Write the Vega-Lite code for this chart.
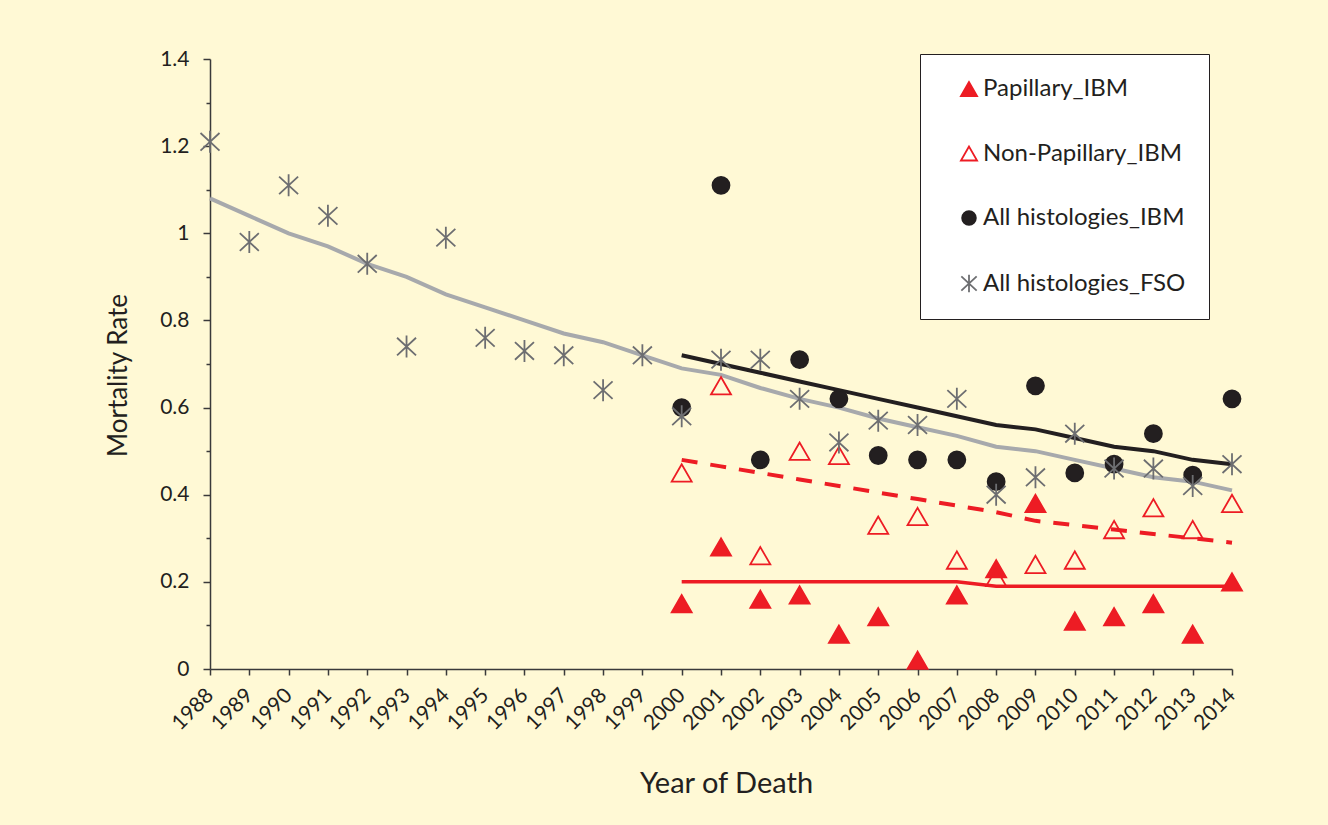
{
  "$schema": "https://vega.github.io/schema/vega-lite/v6.json",
  "width": 1022,
  "height": 610,
  "autosize": "none",
  "padding": {"left": 210, "top": 59, "right": 96, "bottom": 156},
  "background": "#FFF9D5",
  "datasets": {
    "trends": [
      {"trend": "FSO", "year": 1988, "rate": 1.08},
      {"trend": "FSO", "year": 1989, "rate": 1.04},
      {"trend": "FSO", "year": 1990, "rate": 1.00},
      {"trend": "FSO", "year": 1991, "rate": 0.97},
      {"trend": "FSO", "year": 1992, "rate": 0.93},
      {"trend": "FSO", "year": 1993, "rate": 0.90},
      {"trend": "FSO", "year": 1994, "rate": 0.86},
      {"trend": "FSO", "year": 1995, "rate": 0.83},
      {"trend": "FSO", "year": 1996, "rate": 0.80},
      {"trend": "FSO", "year": 1997, "rate": 0.77},
      {"trend": "FSO", "year": 1998, "rate": 0.75},
      {"trend": "FSO", "year": 1999, "rate": 0.72},
      {"trend": "FSO", "year": 2000, "rate": 0.69},
      {"trend": "FSO", "year": 2001, "rate": 0.675},
      {"trend": "FSO", "year": 2002, "rate": 0.645},
      {"trend": "FSO", "year": 2003, "rate": 0.62},
      {"trend": "FSO", "year": 2004, "rate": 0.60},
      {"trend": "FSO", "year": 2005, "rate": 0.575},
      {"trend": "FSO", "year": 2006, "rate": 0.555},
      {"trend": "FSO", "year": 2007, "rate": 0.535},
      {"trend": "FSO", "year": 2008, "rate": 0.51},
      {"trend": "FSO", "year": 2009, "rate": 0.50},
      {"trend": "FSO", "year": 2010, "rate": 0.48},
      {"trend": "FSO", "year": 2011, "rate": 0.46},
      {"trend": "FSO", "year": 2012, "rate": 0.44},
      {"trend": "FSO", "year": 2013, "rate": 0.43},
      {"trend": "FSO", "year": 2014, "rate": 0.41},
      {"trend": "IBM", "year": 2000, "rate": 0.72},
      {"trend": "IBM", "year": 2001, "rate": 0.70},
      {"trend": "IBM", "year": 2002, "rate": 0.68},
      {"trend": "IBM", "year": 2003, "rate": 0.66},
      {"trend": "IBM", "year": 2004, "rate": 0.64},
      {"trend": "IBM", "year": 2005, "rate": 0.62},
      {"trend": "IBM", "year": 2006, "rate": 0.60},
      {"trend": "IBM", "year": 2007, "rate": 0.58},
      {"trend": "IBM", "year": 2008, "rate": 0.56},
      {"trend": "IBM", "year": 2009, "rate": 0.55},
      {"trend": "IBM", "year": 2010, "rate": 0.53},
      {"trend": "IBM", "year": 2011, "rate": 0.51},
      {"trend": "IBM", "year": 2012, "rate": 0.50},
      {"trend": "IBM", "year": 2013, "rate": 0.48},
      {"trend": "IBM", "year": 2014, "rate": 0.47},
      {"trend": "NonPap", "year": 2000, "rate": 0.48},
      {"trend": "NonPap", "year": 2001, "rate": 0.465},
      {"trend": "NonPap", "year": 2002, "rate": 0.45},
      {"trend": "NonPap", "year": 2003, "rate": 0.435},
      {"trend": "NonPap", "year": 2004, "rate": 0.42},
      {"trend": "NonPap", "year": 2005, "rate": 0.405},
      {"trend": "NonPap", "year": 2006, "rate": 0.39},
      {"trend": "NonPap", "year": 2007, "rate": 0.375},
      {"trend": "NonPap", "year": 2008, "rate": 0.36},
      {"trend": "NonPap", "year": 2009, "rate": 0.34},
      {"trend": "NonPap", "year": 2010, "rate": 0.33},
      {"trend": "NonPap", "year": 2011, "rate": 0.32},
      {"trend": "NonPap", "year": 2012, "rate": 0.31},
      {"trend": "NonPap", "year": 2013, "rate": 0.30},
      {"trend": "NonPap", "year": 2014, "rate": 0.29},
      {"trend": "Pap", "year": 2000, "rate": 0.20},
      {"trend": "Pap", "year": 2001, "rate": 0.20},
      {"trend": "Pap", "year": 2002, "rate": 0.20},
      {"trend": "Pap", "year": 2003, "rate": 0.20},
      {"trend": "Pap", "year": 2004, "rate": 0.20},
      {"trend": "Pap", "year": 2005, "rate": 0.20},
      {"trend": "Pap", "year": 2006, "rate": 0.20},
      {"trend": "Pap", "year": 2007, "rate": 0.20},
      {"trend": "Pap", "year": 2008, "rate": 0.19},
      {"trend": "Pap", "year": 2009, "rate": 0.19},
      {"trend": "Pap", "year": 2010, "rate": 0.19},
      {"trend": "Pap", "year": 2011, "rate": 0.19},
      {"trend": "Pap", "year": 2012, "rate": 0.19},
      {"trend": "Pap", "year": 2013, "rate": 0.19},
      {"trend": "Pap", "year": 2014, "rate": 0.19}
    ],
    "points": [
      {"series": "Papillary_IBM", "year": 2000, "rate": 0.15},
      {"series": "Papillary_IBM", "year": 2001, "rate": 0.28},
      {"series": "Papillary_IBM", "year": 2002, "rate": 0.16},
      {"series": "Papillary_IBM", "year": 2003, "rate": 0.17},
      {"series": "Papillary_IBM", "year": 2004, "rate": 0.08},
      {"series": "Papillary_IBM", "year": 2005, "rate": 0.12},
      {"series": "Papillary_IBM", "year": 2006, "rate": 0.02},
      {"series": "Papillary_IBM", "year": 2007, "rate": 0.17},
      {"series": "Papillary_IBM", "year": 2008, "rate": 0.23},
      {"series": "Papillary_IBM", "year": 2009, "rate": 0.38},
      {"series": "Papillary_IBM", "year": 2010, "rate": 0.11},
      {"series": "Papillary_IBM", "year": 2011, "rate": 0.12},
      {"series": "Papillary_IBM", "year": 2012, "rate": 0.15},
      {"series": "Papillary_IBM", "year": 2013, "rate": 0.08},
      {"series": "Papillary_IBM", "year": 2014, "rate": 0.20},
      {"series": "Non-Papillary_IBM", "year": 2000, "rate": 0.45},
      {"series": "Non-Papillary_IBM", "year": 2001, "rate": 0.65},
      {"series": "Non-Papillary_IBM", "year": 2002, "rate": 0.26},
      {"series": "Non-Papillary_IBM", "year": 2003, "rate": 0.50},
      {"series": "Non-Papillary_IBM", "year": 2004, "rate": 0.49},
      {"series": "Non-Papillary_IBM", "year": 2005, "rate": 0.33},
      {"series": "Non-Papillary_IBM", "year": 2006, "rate": 0.35},
      {"series": "Non-Papillary_IBM", "year": 2007, "rate": 0.25},
      {"series": "Non-Papillary_IBM", "year": 2008, "rate": 0.21},
      {"series": "Non-Papillary_IBM", "year": 2009, "rate": 0.24},
      {"series": "Non-Papillary_IBM", "year": 2010, "rate": 0.25},
      {"series": "Non-Papillary_IBM", "year": 2011, "rate": 0.32},
      {"series": "Non-Papillary_IBM", "year": 2012, "rate": 0.37},
      {"series": "Non-Papillary_IBM", "year": 2013, "rate": 0.32},
      {"series": "Non-Papillary_IBM", "year": 2014, "rate": 0.38},
      {"series": "All histologies_IBM", "year": 2000, "rate": 0.60},
      {"series": "All histologies_IBM", "year": 2001, "rate": 1.11},
      {"series": "All histologies_IBM", "year": 2002, "rate": 0.48},
      {"series": "All histologies_IBM", "year": 2003, "rate": 0.71},
      {"series": "All histologies_IBM", "year": 2004, "rate": 0.62},
      {"series": "All histologies_IBM", "year": 2005, "rate": 0.49},
      {"series": "All histologies_IBM", "year": 2006, "rate": 0.48},
      {"series": "All histologies_IBM", "year": 2007, "rate": 0.48},
      {"series": "All histologies_IBM", "year": 2008, "rate": 0.43},
      {"series": "All histologies_IBM", "year": 2009, "rate": 0.65},
      {"series": "All histologies_IBM", "year": 2010, "rate": 0.45},
      {"series": "All histologies_IBM", "year": 2011, "rate": 0.47},
      {"series": "All histologies_IBM", "year": 2012, "rate": 0.54},
      {"series": "All histologies_IBM", "year": 2013, "rate": 0.445},
      {"series": "All histologies_IBM", "year": 2014, "rate": 0.62},
      {"series": "All histologies_FSO", "year": 1988, "rate": 1.21},
      {"series": "All histologies_FSO", "year": 1989, "rate": 0.98},
      {"series": "All histologies_FSO", "year": 1990, "rate": 1.11},
      {"series": "All histologies_FSO", "year": 1991, "rate": 1.04},
      {"series": "All histologies_FSO", "year": 1992, "rate": 0.93},
      {"series": "All histologies_FSO", "year": 1993, "rate": 0.74},
      {"series": "All histologies_FSO", "year": 1994, "rate": 0.99},
      {"series": "All histologies_FSO", "year": 1995, "rate": 0.76},
      {"series": "All histologies_FSO", "year": 1996, "rate": 0.73},
      {"series": "All histologies_FSO", "year": 1997, "rate": 0.72},
      {"series": "All histologies_FSO", "year": 1998, "rate": 0.64},
      {"series": "All histologies_FSO", "year": 1999, "rate": 0.72},
      {"series": "All histologies_FSO", "year": 2000, "rate": 0.58},
      {"series": "All histologies_FSO", "year": 2001, "rate": 0.71},
      {"series": "All histologies_FSO", "year": 2002, "rate": 0.71},
      {"series": "All histologies_FSO", "year": 2003, "rate": 0.62},
      {"series": "All histologies_FSO", "year": 2004, "rate": 0.52},
      {"series": "All histologies_FSO", "year": 2005, "rate": 0.57},
      {"series": "All histologies_FSO", "year": 2006, "rate": 0.56},
      {"series": "All histologies_FSO", "year": 2007, "rate": 0.62},
      {"series": "All histologies_FSO", "year": 2008, "rate": 0.40},
      {"series": "All histologies_FSO", "year": 2009, "rate": 0.44},
      {"series": "All histologies_FSO", "year": 2010, "rate": 0.54},
      {"series": "All histologies_FSO", "year": 2011, "rate": 0.46},
      {"series": "All histologies_FSO", "year": 2012, "rate": 0.46},
      {"series": "All histologies_FSO", "year": 2013, "rate": 0.42},
      {"series": "All histologies_FSO", "year": 2014, "rate": 0.47}
    ]
  },
  "encoding": {
    "x": {
      "field": "year",
      "type": "quantitative",
      "scale": {"domain": [1988, 2014], "nice": false, "zero": false},
      "axis": {
        "title": "Year of Death",
        "values": [1988,1989,1990,1991,1992,1993,1994,1995,1996,1997,1998,1999,2000,2001,2002,2003,2004,2005,2006,2007,2008,2009,2010,2011,2012,2013,2014],
        "format": "d",
        "labelAngle": -45,
        "labelAlign": "right",
        "labelBaseline": "middle",
        "labelFontSize": 21,
        "tickSize": 6,
        "labelPadding": 17,
        "labelOverlap": false,
        "labelFlush": false,
        "titleFontSize": 29,
        "titleX": 516,
        "titleY": 123,
        "titleAlign": "center",
        "titleBaseline": "alphabetic"
      }
    },
    "y": {
      "field": "rate",
      "type": "quantitative",
      "scale": {"domain": [0, 1.4], "nice": false}
    }
  },
  "layer": [
    {
      "data": {"name": "trends"},
      "transform": [{"filter": "datum.trend == 'FSO'"}],
      "mark": {"type": "line", "color": "#A7A9AC", "strokeWidth": 4},
      "encoding": {
        "y": {
          "field": "rate",
          "type": "quantitative",
          "axis": {
            "title": "Mortality Rate",
            "orient": "left",
            "values": [0, 0.2, 0.4, 0.6, 0.8, 1, 1.2, 1.4],
            "format": "~g",
            "labelFontSize": 21,
            "tickSize": 7,
            "labelPadding": 14,
            "titleFontSize": 26,
            "titleAngle": -90,
            "titleX": -84,
            "titleY": 316,
            "titleAlign": "center",
            "titleBaseline": "alphabetic"
          }
        }
      }
    },
    {
      "data": {"name": "trends"},
      "transform": [{"filter": "datum.trend == 'IBM'"}],
      "mark": {"type": "line", "color": "#231F20", "strokeWidth": 4},
      "encoding": {
        "y": {
          "field": "rate",
          "type": "quantitative",
          "axis": {
            "title": null,
            "orient": "left",
            "values": [0.1, 0.3, 0.5, 0.7, 0.9, 1.1, 1.3],
            "labels": false,
            "domain": false,
            "tickSize": 4
          }
        }
      }
    },
    {
      "data": {"name": "trends"},
      "transform": [{"filter": "datum.trend == 'NonPap'"}],
      "mark": {"type": "line", "color": "#ED1C24", "strokeWidth": 4, "strokeDash": [16, 13]},
      "encoding": {"y": {"field": "rate", "type": "quantitative", "axis": null}}
    },
    {
      "data": {"name": "trends"},
      "transform": [{"filter": "datum.trend == 'Pap'"}],
      "mark": {"type": "line", "color": "#ED1C24", "strokeWidth": 3.5},
      "encoding": {"y": {"field": "rate", "type": "quantitative", "axis": null}}
    },
    {
      "data": {"name": "points"},
      "mark": {"type": "point", "opacity": 1, "strokeWidth": 1.8, "size": 400},
      "encoding": {
        "y": {"field": "rate", "type": "quantitative", "axis": null},
        "shape": {
          "field": "series",
          "type": "nominal",
          "scale": {
            "domain": ["Papillary_IBM", "Non-Papillary_IBM", "All histologies_IBM", "All histologies_FSO"],
            "range": ["triangle-up", "triangle-up", "M-0.85,0A0.85,0.85 0 1,0 0.85,0A0.85,0.85 0 1,0 -0.85,0Z", "M0,-1.1L0,1.1M-0.95,-0.88L0.95,0.88M-0.95,0.88L0.95,-0.88"]
          },
          "legend": {
            "title": null,
            "orient": "none",
            "legendX": 710,
            "legendY": -5,
            "padding": 23,
            "rowPadding": 40.5,
            "labelFontSize": 24,
            "labelLimit": 400,
            "labelColor": "#231F20",
            "symbolSize": 260,
            "symbolStrokeWidth": 1.8,
            "symbolOffset": 14,
            "labelOffset": 2,
            "strokeColor": "#231F20",
            "fillColor": "#FFFFFF"
          }
        },
        "fill": {
          "field": "series",
          "type": "nominal",
          "scale": {
            "domain": ["Papillary_IBM", "Non-Papillary_IBM", "All histologies_IBM", "All histologies_FSO"],
            "range": ["#ED1C24", "transparent", "#231F20", "transparent"]
          }
        },
        "stroke": {
          "field": "series",
          "type": "nominal",
          "scale": {
            "domain": ["Papillary_IBM", "Non-Papillary_IBM", "All histologies_IBM", "All histologies_FSO"],
            "range": ["#ED1C24", "#ED1C24", "#231F20", "#6D6E71"]
          }
        }
      }
    }
  ],
  "resolve": {"axis": {"y": "independent"}},
  "config": {
    "font": "Lato",
    "view": {"stroke": null},
    "axis": {
      "grid": false,
      "domainColor": "#3A3A3A",
      "tickColor": "#3A3A3A",
      "domainWidth": 1.5,
      "tickWidth": 1.5,
      "labelColor": "#231F20",
      "titleColor": "#231F20",
      "labelFontWeight": "normal",
      "titleFontWeight": "normal"
    }
  }
}
